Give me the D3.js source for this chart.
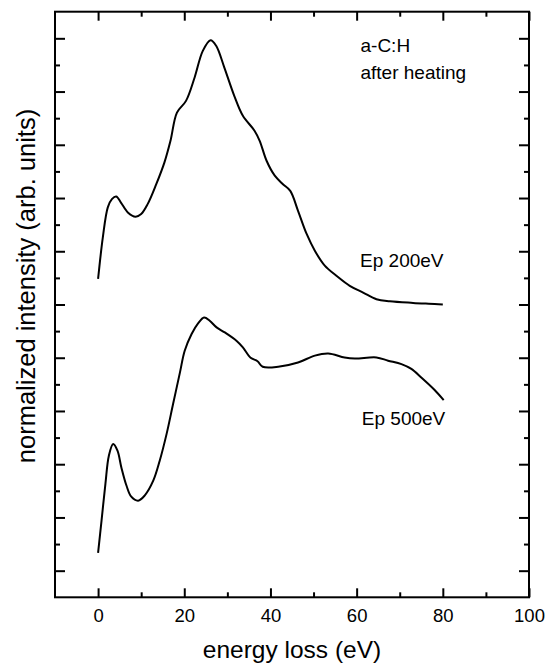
<!DOCTYPE html>
<html>
<head>
<meta charset="utf-8">
<script src="https://cdn.jsdelivr.net/npm/d3@7"></script>
<style>
	body { margin: 0; background: #fff; }
	.EelsChart text { font-family: "Liberation Sans", Arial, sans-serif; fill: #000; }
</style>
</head>
<body>
<div id="chart"></div>
<script>
// Ep 200eV spectrum (upper curve)
const energy200 = [0, 1.1, 2.25, 3.2, 4.2, 5.3, 6.9, 8.7, 10, 11.5, 13.5, 15.4, 16.8, 18.3, 20.4, 22.4, 24.3, 26.1, 27.4, 29.3, 31.6, 33.6, 36.3, 37.5, 39.1, 41, 42.9, 44.6, 46.4, 48.4, 50.3, 52.6, 55.3, 58.4, 61.5, 64.6, 67.7, 73.1, 78.1, 80];
const intensity200 = [11.96, 13.52, 14.65, 14.96, 15.06, 14.83, 14.46, 14.3, 14.4, 14.77, 15.52, 16.34, 17.15, 18.21, 18.65, 19.53, 20.53, 20.93, 20.72, 19.9, 18.84, 18.09, 17.53, 17.15, 16.4, 15.84, 15.52, 15.27, 14.52, 13.65, 13.02, 12.46, 12.08, 11.7, 11.45, 11.2, 11.12, 11.06, 11.02, 11.0];

// Ep 500eV spectrum (lower curve)
const energy500 = [0, 0.8, 1.7, 2.5, 3.5, 4.5, 5.4, 6.6, 7.7, 9.3, 10.8, 12.8, 14.3, 15.9, 17.4, 19.0, 20.1, 21.7, 23.2, 24.6, 25.9, 27.5, 29.4, 32.1, 33.6, 35.4, 37.0, 38.2, 41.8, 46.4, 50.3, 53.4, 57.2, 59.6, 64.6, 67.3, 70.4, 72.7, 75.0, 78.1, 80.2];
const intensity500 = [1.67, 2.88, 4.26, 5.32, 5.76, 5.51, 4.88, 4.19, 3.78, 3.63, 3.82, 4.38, 5.13, 6.14, 7.26, 8.45, 9.26, 9.89, 10.29, 10.51, 10.39, 10.14, 9.95, 9.64, 9.39, 9.0, 8.87, 8.66, 8.66, 8.82, 9.08, 9.16, 9.01, 8.97, 9.01, 8.89, 8.76, 8.58, 8.26, 7.79, 7.41];

// axes
const xDomain = [-10, 100];
const xMajorTicks = [0, 20, 40, 60, 80, 100];
const xMinorTicks = [10, 30, 50, 70, 90];
const yDomain = [0, 22];
const yMajorTicks = [1, 3, 5, 7, 9, 11, 13, 15, 17, 19, 21];
const yMinorTicks = [2, 4, 6, 8, 10, 12, 14, 16, 18, 20];

const xTitle = 'energy loss (eV)';
const yTitle = 'normalized intensity (arb. units)';

// text annotations: [energy, intensity, text]
const annotations = [
	[60.9, 20.48, 'a-C:H'],
	[60.9, 19.49, 'after heating'],
	[60.8, 12.42, 'Ep 200eV'],
	[61.2, 6.47, 'Ep 500eV']
];

const width = 547;
const height = 664;
const plot = { left: 55, right: 529, top: 11.7, bottom: 597.3 };

const svg = d3.select('#chart').append('svg')
	.attr('class', 'EelsChart')
	.attr('width', width)
	.attr('height', height);

const x = d3.scaleLinear().domain(xDomain).range([plot.left, plot.right]);
const y = d3.scaleLinear().domain(yDomain).range([plot.bottom, plot.top]);

/**
 * draws inward pointing ticks for one side of the frame
 * @param {Function} axisFn
 * @param {d3.scaleLinear} scale
 * @param {number[]} ticks
 * @param {number} size
 * @param {number[]} offset
 * @param {boolean} labels
 */
function drawTicks(axisFn, scale, ticks, size, offset, labels) {
	const axis = axisFn(scale)
		.tickValues(ticks)
		.tickSize(-size)
		.tickPadding(12)
		.tickFormat(labels ? d3.format('d') : '');

	const g = svg.append('g')
		.attr('transform', `translate(${offset[0]},${offset[1]})`)
		.call(axis);

	g.select('.domain').remove();
	g.selectAll('line').attr('stroke', '#000').attr('stroke-width', 2);
	g.selectAll('text')
		.attr('font-size', 18.5)
		.attr('font-family', '"Liberation Sans", Arial, sans-serif');
}

drawTicks(d3.axisBottom, x, xMajorTicks, 9, [0, plot.bottom], true);
drawTicks(d3.axisBottom, x, xMinorTicks, 5, [0, plot.bottom], false);
drawTicks(d3.axisTop, x, xMajorTicks, 9, [0, plot.top], false);
drawTicks(d3.axisTop, x, xMinorTicks, 5, [0, plot.top], false);
drawTicks(d3.axisLeft, y, yMajorTicks, 10, [plot.left, 0], false);
drawTicks(d3.axisLeft, y, yMinorTicks, 5, [plot.left, 0], false);
drawTicks(d3.axisRight, y, yMajorTicks, 10, [plot.right, 0], false);
drawTicks(d3.axisRight, y, yMinorTicks, 5, [plot.right, 0], false);

// frame
svg.append('rect')
	.attr('x', plot.left)
	.attr('y', plot.top)
	.attr('width', plot.right - plot.left)
	.attr('height', plot.bottom - plot.top)
	.attr('fill', 'none')
	.attr('stroke', '#000')
	.attr('stroke-width', 2);

// spectra
const line = d3.line()
	.x(d => x(d[0]))
	.y(d => y(d[1]))
	.curve(d3.curveCatmullRom.alpha(0.5));

[[energy200, intensity200], [energy500, intensity500]].forEach(([ex, iy]) => {
	svg.append('path')
		.datum(d3.zip(ex, iy))
		.attr('d', line)
		.attr('fill', 'none')
		.attr('stroke', '#000')
		.attr('stroke-width', 2)
		.attr('stroke-linejoin', 'round');
});

svg.append('g')
	.selectAll('text')
	.data(annotations)
	.join('text')
	.attr('x', d => x(d[0]))
	.attr('y', d => y(d[1]))
	.attr('font-size', 19)
	.text(d => d[2]);

// axis titles
svg.append('text')
	.attr('x', (plot.left + plot.right) / 2)
	.attr('y', 658)
	.attr('text-anchor', 'middle')
	.attr('font-size', 24.5)
	.text(xTitle);

svg.append('text')
	.attr('transform', 'translate(35,286) rotate(-90)')
	.attr('text-anchor', 'middle')
	.attr('font-size', 25.5)
	.text(yTitle);
</script>
</body>
</html>
